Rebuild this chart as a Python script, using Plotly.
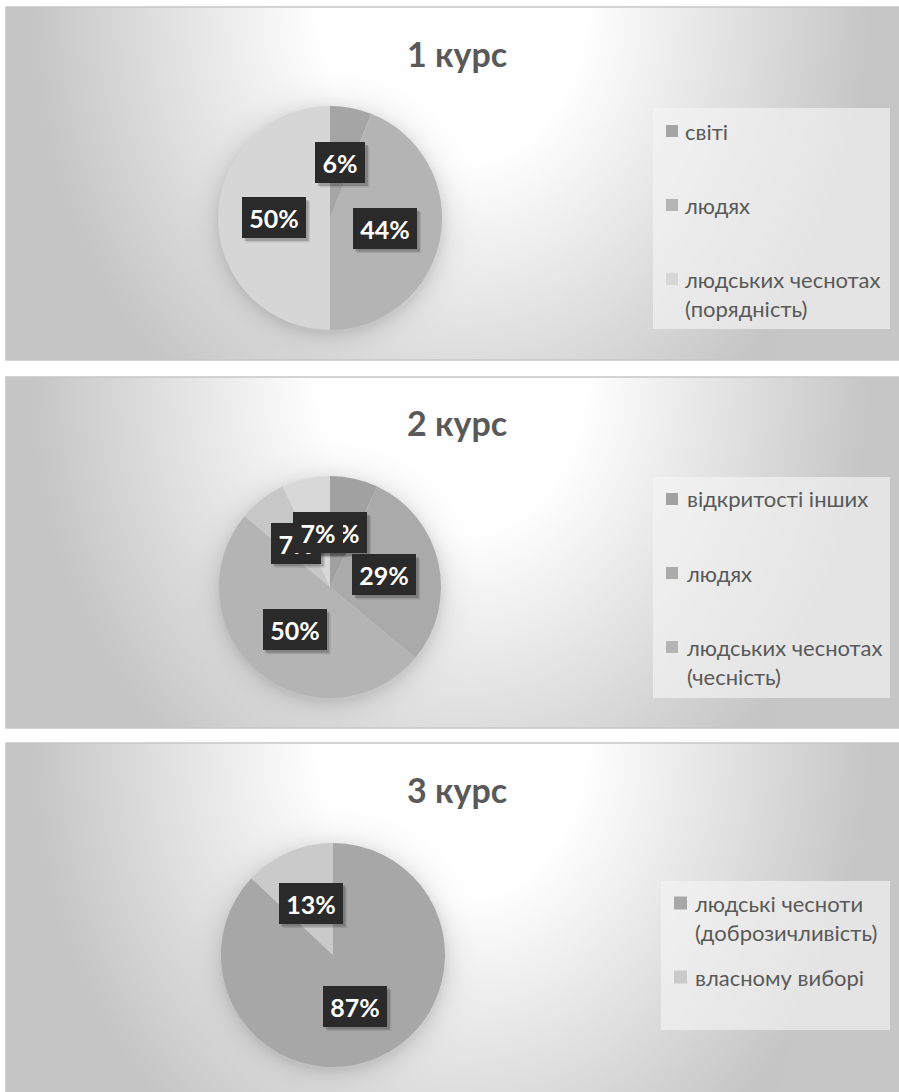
import base64
import math
import struct
import zlib

import numpy as np
import plotly.graph_objects as go

# ---------------- data ----------------
titles = ["1 курс", "2 курс", "3 курс"]

course1_labels = ["світі", "людях", "людських чеснотах (порядність)"]
course1_values = [6, 44, 50]
course1_colors = ["#a5a5a5", "#b4b4b4", "#d6d6d6"]

course2_labels = ["відкритості інших", "людях", "людських чеснотах (чесність)",
                  "категорія 4", "категорія 5"]
course2_values = [7, 29, 50, 7, 7]
course2_colors = ["#a1a1a1", "#aaaaaa", "#b4b4b4", "#c7c7c7", "#d8d8d8"]

course3_labels = ["людські чесноти (доброзичливість)", "власному виборі"]
course3_values = [87, 13]
course3_colors = ["#a7a7a7", "#cacaca"]

# number of legend entries visible in each panel (the rest overflowed)
legend_visible = [3, 3, 2]

# ---------------- layout constants ----------------
W, H = 899, 1092
FONT = "Lato, 'Open Sans', sans-serif"
TXT = "#595959"

panels = [
    dict(box=(6, 7, 905, 360), pie=(330, 218, 112), title_y=53,
         leg_box=(653, 108, 890, 329), leg_sq=(666, 12), leg_tx=683, leg_y0=131, leg_step=74),
    dict(box=(6, 377, 905, 728), pie=(330, 587, 111), title_y=423,
         leg_box=(653, 477, 890, 698), leg_sq=(666, 12), leg_tx=685, leg_y0=499, leg_step=74),
    dict(box=(6, 743, 905, 1100), pie=(333, 955, 112), title_y=789,
         leg_box=(661, 881, 890, 1030), leg_sq=(674, 13), leg_tx=693, leg_y0=903, leg_step=74),
]
series = [
    (course1_labels, course1_values, course1_colors),
    (course2_labels, course2_values, course2_colors),
    (course3_labels, course3_values, course3_colors),
]

LH = 30  # legend line height (px)
LEG_FS = 22
LBL_FS = 25
BOX_H = 41


def px(x):
    return x / W


def py(y):
    return 1 - y / H


def png_data_uri(arr):
    arr = np.clip(arr, 0, 255).astype(np.uint8)
    h, w = arr.shape
    raw = b"".join(b"\x00" + arr[i].tobytes() for i in range(h))

    def chunk(tag, data):
        c = struct.pack(">I", len(data)) + tag + data
        return c + struct.pack(">I", zlib.crc32(tag + data) & 0xFFFFFFFF)

    png = (b"\x89PNG\r\n\x1a\n"
           + chunk(b"IHDR", struct.pack(">IIBBBBB", w, h, 8, 0, 0, 0, 0))
           + chunk(b"IDAT", zlib.compress(raw, 9))
           + chunk(b"IEND", b""))
    return "data:image/png;base64," + base64.b64encode(png).decode()


def panel_bg(box, pie, scale=2):
    x0, y0, x1, y1 = box
    pw, ph = x1 - x0, y1 - y0
    w, h = int(pw / scale), int(ph / scale)
    xs = x0 + (np.arange(w) + 0.5) * pw / w
    ys = y0 + (np.arange(h) + 0.5) * ph / h
    X, Y = np.meshgrid(xs, ys)
    d = np.sqrt((X - 452) ** 2 + (0.85 * (Y - y0)) ** 2)
    v = 255 - 0.2 * np.clip(d - 135, 0, None)
    v = np.maximum(v, 198)
    cx, cy, r = pie
    dp = np.sqrt((X - cx - 1) ** 2 + (Y - cy - 3) ** 2) - r
    v = v - 28 * np.exp(-np.clip(dp, 0, None) / 10)
    return png_data_uri(v)


fig = go.Figure()
images, shapes, annotations = [], [], []

for p, (labels, values, colors), title, nvis in zip(panels, series, titles, legend_visible):
    x0, y0, x1, y1 = p["box"]
    cx, cy, r = p["pie"]

    # panel background (gradient) + border
    images.append(dict(source=panel_bg(p["box"], p["pie"]), xref="paper", yref="paper",
                       x=px(x0), y=py(y0), sizex=(x1 - x0) / W, sizey=(y1 - y0) / H,
                       xanchor="left", yanchor="top", sizing="stretch", layer="below"))
    shapes.append(dict(type="rect", xref="paper", yref="paper",
                       x0=px(x0), x1=px(x1), y0=py(y1), y1=py(y0),
                       line=dict(color="#c6c6c6", width=1.5), fillcolor="rgba(0,0,0,0)",
                       layer="below"))

    # pie
    fig.add_trace(go.Pie(
        labels=labels, values=values, sort=False, direction="clockwise", rotation=0,
        marker=dict(colors=colors, line=dict(width=0)),
        textinfo="none", showlegend=False, hoverinfo="label+percent",
        domain=dict(x=[px(cx - r), px(cx + r)], y=[py(cy + r), py(cy - r)]),
    ))

    # title
    annotations.append(dict(text=f"<b>{title}</b>", xref="paper", yref="paper",
                            x=px(457), y=py(p["title_y"]), xanchor="center", yanchor="middle",
                            showarrow=False, font=dict(family=FONT, size=34, color=TXT)))

    # data labels (dark boxes at half radius of each slice)
    total = sum(values)
    cum = 0
    for v in values:
        mid = (cum + v / 2) / total * 2 * math.pi
        cum += v
        lx = cx + 0.5 * r * math.sin(mid)
        ly = cy - 0.5 * r * math.cos(mid)
        txt = f"{round(100 * v / total)}%"
        bw = 14 * len(txt) + 22
        # soft shadow (shapes)
        for sh, alpha in ((4, 0.10), (2.5, 0.18)):
            shapes.append(dict(type="rect", xref="paper", yref="paper",
                               x0=px(lx - bw / 2 + sh), x1=px(lx + bw / 2 + sh),
                               y0=py(ly + BOX_H / 2 + sh), y1=py(ly - BOX_H / 2 + sh),
                               line=dict(width=0), fillcolor=f"rgba(0,0,0,{alpha})",
                               layer="above"))
        annotations.append(dict(text=f"<b>{txt}</b>", xref="paper", yref="paper",
                                x=px(lx), y=py(ly), xanchor="center", yanchor="middle",
                                width=bw, height=BOX_H, borderpad=0, borderwidth=0,
                                bgcolor="#2a2a2a", showarrow=False,
                                font=dict(family=FONT, size=LBL_FS, color="#ffffff")))

    # legend (manual: only the entries that fit are visible)
    lx0, ly0, lx1, ly1 = p["leg_box"]
    shapes.append(dict(type="rect", xref="paper", yref="paper",
                       x0=px(lx0), x1=px(lx1), y0=py(ly1), y1=py(ly0),
                       line=dict(width=0), fillcolor="rgba(244,244,244,0.65)", layer="below"))
    sqx, sqs = p["leg_sq"]
    yc = p["leg_y0"]
    for lab, col in list(zip(labels, colors))[:nvis]:
        text = lab.replace(" (", "<br>(")
        nl = text.count("<br>") + 1
        shapes.append(dict(type="rect", xref="paper", yref="paper",
                           x0=px(sqx), x1=px(sqx + sqs), y0=py(yc + sqs / 2), y1=py(yc - sqs / 2),
                           line=dict(width=0), fillcolor=col, layer="above"))
        annotations.append(dict(text=text, xref="paper", yref="paper",
                                x=px(p["leg_tx"]), y=py(yc + (nl - 1) * LH / 2),
                                xanchor="left", yanchor="middle", align="left",
                                showarrow=False, font=dict(family=FONT, size=LEG_FS, color=TXT)))
        yc += p["leg_step"]

fig.update_layout(
    width=W, height=H, margin=dict(l=0, r=0, t=0, b=0),
    paper_bgcolor="#ffffff", plot_bgcolor="#ffffff",
    images=images, shapes=shapes, annotations=annotations,
    showlegend=False,
)

fig.write_html("out.html")
